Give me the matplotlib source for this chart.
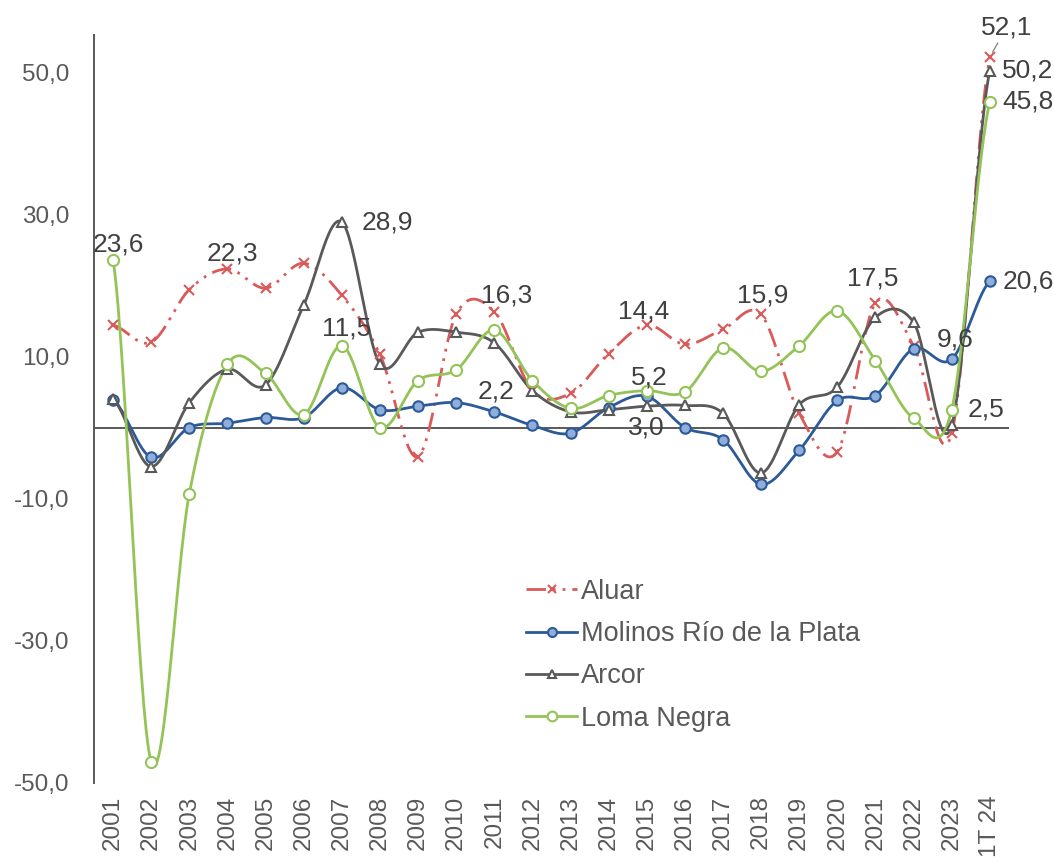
import numpy as np
import matplotlib
matplotlib.use('Agg')
import matplotlib.pyplot as plt
from matplotlib.lines import Line2D

plt.rcParams['font.family'] = ['Liberation Sans', 'DejaVu Sans']

years = ['2001', '2002', '2003', '2004', '2005', '2006', '2007', '2008', '2009', '2010',
         '2011', '2012', '2013', '2014', '2015', '2016', '2017', '2018', '2019', '2020',
         '2021', '2022', '2023', '1T 24']

aluar = [14.4, 12.0, 19.4, 22.3, 19.6, 23.1, 18.6, 10.3, -4.1, 15.9,
         16.3, 5.2, 4.8, 10.4, 14.4, 11.7, 13.8, 15.9, 2.0, -3.4,
         17.5, 11.5, -0.8, 52.1]
molinos = [3.9, -4.2, 0.0, 0.6, 1.4, 1.4, 5.6, 2.5, 3.0, 3.5,
           2.2, 0.3, -0.8, 2.8, 4.4, 0.0, -1.7, -8.0, -3.2, 3.8,
           4.5, 11.1, 9.6, 20.6]
arcor = [4.0, -5.5, 3.5, 8.2, 6.0, 17.2, 28.9, 8.9, 13.4, 13.4,
         11.9, 5.2, 2.2, 2.5, 3.0, 3.1, 2.0, -6.4, 3.2, 5.7,
         15.5, 14.8, 0.3, 50.2]
loma = [23.6, -47.0, -9.3, 8.9, 7.6, 1.8, 11.5, 0.0, 6.6, 8.1,
        13.7, 6.6, 2.7, 4.5, 5.2, 5.0, 11.2, 7.9, 11.5, 16.4,
        9.4, 1.3, 2.5, 45.8]

yticks = [50, 30, 10, -10, -30, -50]

# etiquetas de datos: (serie, indice, dx, dy) en pixeles
labels = [
    ('loma', 0, 5, 15), ('aluar', 3, 5, 15), ('arcor', 6, 46, 0), ('loma', 6, 5, 17),
    ('aluar', 10, 12, 16), ('molinos', 10, 2, 20), ('aluar', 14, -3, 14),
    ('loma', 14, 3, 13), ('arcor', 14, 0, -21), ('aluar', 17, 2, 19),
    ('aluar', 20, -3, 25), ('molinos', 22, 3, 20), ('loma', 22, 34, 0),
    ('molinos', 23, 38, 0), ('arcor', 23, 38, 0), ('loma', 23, 38, 0),
]


def smooth(y, n=30):
    # suavizado tipo Excel (Catmull-Rom)
    y = np.asarray(y, float)
    m = len(y)
    t = np.zeros(m)
    t[1:-1] = (y[2:] - y[:-2]) / 2
    t[0] = (y[1] - y[0]) / 2
    t[-1] = (y[-1] - y[-2]) / 2
    xs, ys = [], []
    for i in range(m - 1):
        s = np.linspace(0, 1, n, endpoint=False)
        h00 = 2 * s**3 - 3 * s**2 + 1
        h10 = s**3 - 2 * s**2 + s
        h01 = -2 * s**3 + 3 * s**2
        h11 = s**3 - s**2
        xs.append(i + s)
        ys.append(h00 * y[i] + h10 * t[i] + h01 * y[i + 1] + h11 * t[i + 1])
    xs.append([m - 1])
    ys.append([y[-1]])
    return np.concatenate(xs), np.concatenate(ys)


series = {
    'aluar': dict(data=aluar, name='Aluar', color='#DA5A5A', marker='x', mfc='#DA5A5A',
                  mec='#DA5A5A', ms=7, dashes=[7, 2.5, 1, 2.5, 1, 2.5]),
    'molinos': dict(data=molinos, name='Molinos Río de la Plata', color='#2C5A98', marker='o',
                    mfc='#8FAEDB', mec='#2C5A98', ms=7.5, dashes=None),
    'arcor': dict(data=arcor, name='Arcor', color='#595959', marker='^', mfc='white',
                  mec='#595959', ms=7, dashes=None),
    'loma': dict(data=loma, name='Loma Negra', color='#94C357', marker='o', mfc='white',
                 mec='#94C357', ms=8, dashes=None),
}

fig = plt.figure(figsize=(10.54, 8.63), dpi=100)
ax = fig.add_axes([0.0892, 0.0927, 0.868, 0.8667])

x = np.arange(len(years))
ax.axhline(0, color='#595959', lw=1.4, zorder=1)

handles = []
for key in ['aluar', 'molinos', 'arcor', 'loma']:
    s = series[key]
    sx, sy = smooth(s['data'])
    ln, = ax.plot(sx, sy, color=s['color'], lw=2, zorder=2)
    if s['dashes']:
        ln.set_dashes(s['dashes'])
    ax.plot(x, s['data'], ls='none', marker=s['marker'], ms=s['ms'], mfc=s['mfc'],
            mec=s['mec'], mew=1.5, zorder=3)
    h = Line2D([], [], color=s['color'], lw=2, marker=s['marker'], ms=s['ms'] - 1,
               mfc=s['mfc'], mec=s['mec'], mew=1.5)
    if s['dashes']:
        h.set_dashes(s['dashes'])
    handles.append((h, s['name']))

for key, i, dx, dy in labels:
    v = series[key]['data'][i]
    ax.annotate(f'{v:.1f}'.replace('.', ','), (i, v), xytext=(dx, dy),
                textcoords='offset pixels', ha='center', va='center',
                fontsize=19, color='#404040', zorder=5)

# etiqueta 52,1 con linea guia
ax.annotate(f'{aluar[-1]:.1f}'.replace('.', ','), (23, aluar[-1]), xytext=(17, 30),
            textcoords='offset pixels', ha='center', va='center', fontsize=19,
            color='#404040', zorder=5,
            arrowprops=dict(arrowstyle='-', color='#8C8C8C', lw=1, shrinkA=1, shrinkB=4))

ax.set_xlim(-0.5, len(years) - 0.5)
ax.set_ylim(-50, 55.2)
ax.set_xticks(x)
ax.set_xticklabels(years, rotation=90, fontsize=17.5, color='#595959')
ax.set_yticks(yticks)
ax.set_yticklabels([f'{v:.1f}'.replace('.', ',') for v in yticks], fontsize=17.5, color='#595959')
ax.tick_params(axis='both', length=0)
ax.tick_params(axis='y', pad=18)
ax.tick_params(axis='x', pad=9)

for sp in ['top', 'right', 'bottom']:
    ax.spines[sp].set_visible(False)
ax.spines['left'].set_color('#595959')
ax.spines['left'].set_linewidth(1.4)

leg = ax.legend([h for h, n in handles], [n for h, n in handles], loc='upper left',
                bbox_to_anchor=(515 / 1054, 1 - 568 / 863), bbox_transform=fig.transFigure,
                frameon=False, fontsize=19.5, handlelength=1.9, handletextpad=0.15,
                labelspacing=0.6, borderaxespad=0)
for t in leg.get_texts():
    t.set_color('#595959')

fig.savefig('out.png', dpi=100)
